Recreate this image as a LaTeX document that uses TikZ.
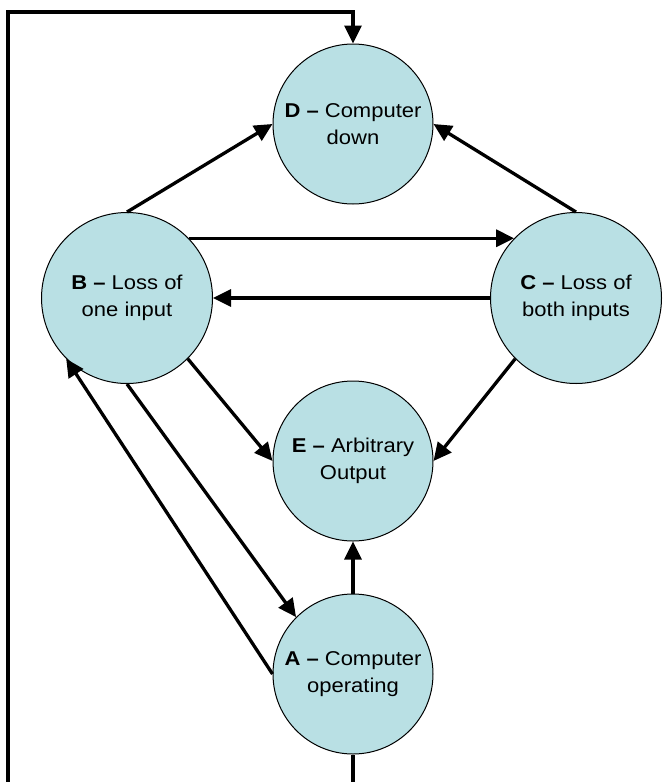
\documentclass[tikz,border=0pt]{standalone}
\usepackage{fontspec}
\setmainfont[FakeStretch=1.1]{Liberation Sans}
\usetikzlibrary{arrows.meta}
\definecolor{stfill}{RGB}{185,224,228}
\begin{document}
\begin{tikzpicture}[x=1pt,y=-1pt,
  state/.style={circle,draw=black,line width=1pt,fill=stfill,inner sep=0pt,
    align=center,font=\fontsize{20}{26.7}\selectfont},
  small/.style={state,minimum size=160pt},
  big/.style={state,minimum size=171pt},
  arr/.style={line width=3.3pt,-{Triangle[length=18pt,width=17pt]}},
  plain/.style={line width=3.3pt}]
\useasboundingbox (0,0) rectangle (662,782);
\node[small] (D) at (353,124) {\textbf{D –} Computer\\down};
\node[big]   (B) at (127,298) {\textbf{B –} Loss of\\one input};
\node[big]   (C) at (576,298) {\textbf{C –} Loss of\\both inputs};
\node[small] (E) at (353,461) {\textbf{E –} Arbitrary\\Output};
\node[small] (A) at (353,674) {\textbf{A –} Computer\\operating};
\coordinate (abot) at (353,782);
\coordinate (lbot) at (8,782);
\coordinate (ltop) at (8,12);
\draw[arr] (B.north) -- (D.west);
\draw[arr] (C.north) -- (D.east);
\draw[arr] (B.44) -- (C.136);
\draw[arr] (C.west) -- (B.east);
\draw[arr] (B.south east) -- (E.west);
\draw[arr] (C.south west) -- (E.east);
\draw[arr] (B.south) -- (A.north west);
\draw[arr] (A.west) -- (B.south west);
\draw[arr] (A.north) -- (E.south);
\draw[plain] (A.south) -- (abot);
\draw[arr] (lbot) -- (ltop) -| (D.north);
\end{tikzpicture}
\end{document}
